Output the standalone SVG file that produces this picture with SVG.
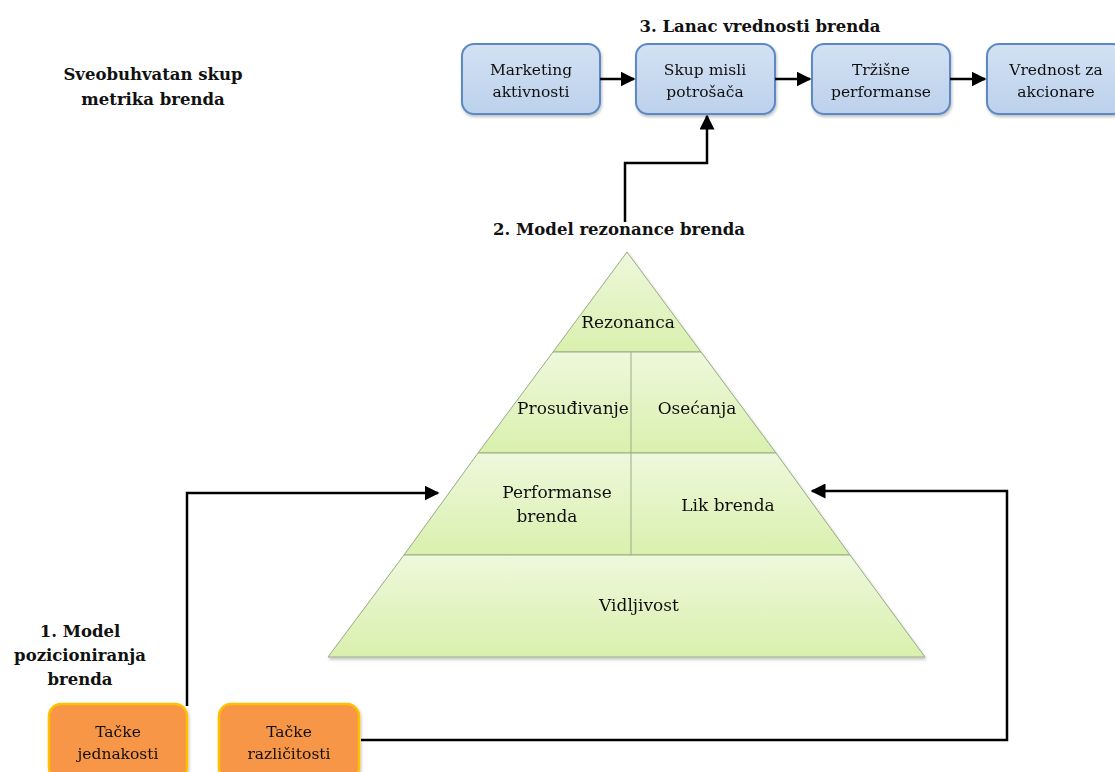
<svg xmlns="http://www.w3.org/2000/svg" width="1115" height="772" viewBox="0 0 1115 772">
  <defs>
    <linearGradient id="blueFill" x1="0" y1="0" x2="0" y2="1">
      <stop offset="0" stop-color="#d3e1f3"/>
      <stop offset="1" stop-color="#bcd1ec"/>
    </linearGradient>
    <linearGradient id="greenFill" x1="0" y1="0" x2="0" y2="1">
      <stop offset="0" stop-color="#eef8dc"/>
      <stop offset="1" stop-color="#d9f0ad"/>
    </linearGradient>
    <marker id="arrow" viewBox="0 0 10 10" refX="9" refY="5" markerWidth="6" markerHeight="6" orient="auto" markerUnits="strokeWidth">
      <path d="M0,0 L10,5 L0,10 z" fill="#000"/>
    </marker>
    <filter id="shadow" x="-10%" y="-10%" width="120%" height="130%">
      <feDropShadow dx="1" dy="2" stdDeviation="1.5" flood-color="#000" flood-opacity="0.25"/>
    </filter>
  </defs>
  <style>
    .title { font-family: "DejaVu Serif", "Liberation Serif", serif; font-weight: bold; font-size: 16.5px; fill: #111; }
    .label { font-family: "DejaVu Serif", "Liberation Serif", serif; font-size: 15.5px; fill: #111; }
    .plabel { font-family: "DejaVu Serif", "Liberation Serif", serif; font-size: 17px; fill: #111; }
    .blue { fill: url(#blueFill); stroke: #5b88c4; stroke-width: 2; }
    .orange { fill: #f79646; stroke: #ffc000; stroke-width: 2.5; }
    .band { fill: url(#greenFill); stroke: #9aab86; stroke-width: 1; }
    .conn { fill: none; stroke: #000; stroke-width: 2.5; marker-end: url(#arrow); }
  </style>

  <rect width="1115" height="772" fill="#fff"/>

  <!-- headings -->
  <g id="heading-metrics">
    <text class="title" x="153" y="80" text-anchor="middle">Sveobuhvatan skup</text>
    <text class="title" x="153" y="105" text-anchor="middle">metrika brenda</text>
  </g>
  <g id="heading-chain">
    <text class="title" x="760" y="32" text-anchor="middle">3. Lanac vrednosti brenda</text>
  </g>
  <g id="heading-resonance">
    <text class="title" x="619" y="235" text-anchor="middle">2. Model rezonance brenda</text>
  </g>
  <g id="heading-positioning">
    <text class="title" x="80" y="637" text-anchor="middle">1. Model</text>
    <text class="title" x="80" y="661" text-anchor="middle">pozicioniranja</text>
    <text class="title" x="80" y="685" text-anchor="middle">brenda</text>
  </g>

  <!-- value chain boxes -->
  <g id="marketing" filter="url(#shadow)">
    <rect class="blue" x="462" y="44" width="138" height="70" rx="12"/>
    <text class="label" x="531" y="75" text-anchor="middle">Marketing</text>
    <text class="label" x="531" y="97" text-anchor="middle">aktivnosti</text>
  </g>
  <g id="mindset" filter="url(#shadow)">
    <rect class="blue" x="636" y="44" width="139" height="70" rx="12"/>
    <text class="label" x="705" y="75" text-anchor="middle">Skup misli</text>
    <text class="label" x="705" y="97" text-anchor="middle">potrošača</text>
  </g>
  <g id="market" filter="url(#shadow)">
    <rect class="blue" x="812" y="44" width="138" height="70" rx="12"/>
    <text class="label" x="881" y="75" text-anchor="middle">Tržišne</text>
    <text class="label" x="881" y="97" text-anchor="middle">performanse</text>
  </g>
  <g id="shareholder" filter="url(#shadow)">
    <rect class="blue" x="987" y="44" width="138" height="70" rx="12"/>
    <text class="label" x="1056" y="75" text-anchor="middle">Vrednost za</text>
    <text class="label" x="1056" y="97" text-anchor="middle">akcionare</text>
  </g>

  <!-- resonance pyramid -->
  <g id="pyramid" filter="url(#shadow)">
    <polygon class="band" points="627,252 701,352 553,352"/>
    <polygon class="band" points="553,352 701,352 776,453 478,453"/>
    <polygon class="band" points="478,453 776,453 850,555 404,555"/>
    <polygon class="band" points="404,555 850,555 925,657 328,657"/>
    <line x1="631" y1="352" x2="631" y2="555" stroke="#9aab86" stroke-width="1"/>
    <text class="plabel" x="628" y="328" text-anchor="middle">Rezonanca</text>
    <text class="plabel" x="573" y="414" text-anchor="middle">Prosuđivanje</text>
    <text class="plabel" x="697" y="414" text-anchor="middle">Osećanja</text>
    <text class="plabel" x="557" y="498" text-anchor="middle">Performanse</text>
    <text class="plabel" x="547" y="522" text-anchor="middle">brenda</text>
    <text class="plabel" x="728" y="511" text-anchor="middle">Lik brenda</text>
    <text class="plabel" x="639" y="611" text-anchor="middle">Vidljivost</text>
  </g>

  <!-- positioning boxes -->
  <g id="parity" filter="url(#shadow)">
    <rect class="orange" x="49" y="704" width="138" height="76" rx="12"/>
    <text class="label" x="118" y="737" text-anchor="middle">Tačke</text>
    <text class="label" x="118" y="759" text-anchor="middle">jednakosti</text>
  </g>
  <g id="difference" filter="url(#shadow)">
    <rect class="orange" x="219" y="704" width="140" height="76" rx="12"/>
    <text class="label" x="289" y="737" text-anchor="middle">Tačke</text>
    <text class="label" x="289" y="759" text-anchor="middle">različitosti</text>
  </g>

  <!-- connectors -->
  <g id="connectors">
    <path class="conn" d="M600,79 H634"/>
    <path class="conn" d="M775,79 H810"/>
    <path class="conn" d="M950,79 H985"/>
    <path class="conn" d="M625,222 V163 H707 V116"/>
    <path class="conn" d="M187,706 V493 H438"/>
    <path class="conn" d="M361,740 H1007 V491 H812"/>
  </g>
</svg>
